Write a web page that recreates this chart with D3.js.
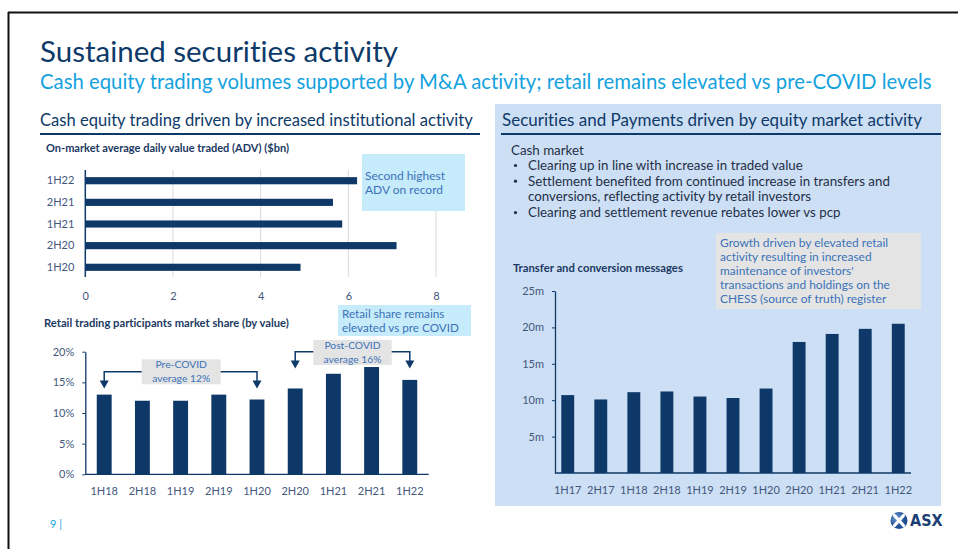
<!DOCTYPE html>
<html>
<head>
<meta charset="utf-8">
<script src="https://cdn.jsdelivr.net/npm/d3@7"></script>
<style>
  body { margin: 0; background: #fff; }
  svg { display: block; font-family: Lato, "Noto Sans", sans-serif; font-variant-ligatures: none; }
</style>
</head>
<body>
<div id="slide"></div>
<script>
// ADV bar chart (horizontal)
var advCats = ["1H22", "2H21", "1H21", "2H20", "1H20"];
var advValues = [6.2, 5.65, 5.86, 7.1, 4.91];
var advTicks = [0, 2, 4, 6, 8];

// retail market share (%)
var retailCats = ["1H18", "2H18", "1H19", "2H19", "1H20", "2H20", "1H21", "2H21", "1H22"];
var retailValues = [13.0, 12.0, 12.0, 13.0, 12.2, 14.0, 16.4, 17.5, 15.4];
var retailTicks = [0, 5, 10, 15, 20];

// transfer and conversion messages (m)
var msgCats = ["1H17", "2H17", "1H18", "2H18", "1H19", "2H19", "1H20", "2H20", "1H21", "2H21", "1H22"];
var msgValues = [10.7, 10.1, 11.1, 11.2, 10.5, 10.3, 11.6, 18.0, 19.1, 19.8, 20.5];
var msgTicks = [5, 10, 15, 20, 25];

var bullets = [
  ["Clearing up in line with increase in traded value"],
  ["Settlement benefited from continued increase in transfers and", "conversions, reflecting activity by retail investors"],
  ["Clearing and settlement revenue rebates lower vs pcp"]
];
var growthNote = ["Growth driven by elevated retail", "activity resulting in increased",
  "maintenance of investors'", "transactions and holdings on the", "CHESS (source of truth) register"];

var navy = "#0e3a69";
var barColor = "#0d3868";
var tickColor = "#43577e";
var noteColor = "#3b72b8";

var svg = d3.select("#slide").append("svg")
    .attr("width", 958)
    .attr("height", 549);

// scale font so text fills a given width
function fit(sel, w) {
  var len = sel.node().getComputedTextLength();
  var fs = parseFloat(sel.attr("font-size"));
  sel.attr("font-size", (fs * w / len).toFixed(2));
  return sel;
}

// frame
svg.append("line").attr("x1", 8).attr("x2", 958).attr("y1", 12.5).attr("y2", 12.5)
    .attr("stroke", "#111").attr("stroke-width", 2);
svg.append("line").attr("x1", 8.5).attr("x2", 8.5).attr("y1", 12).attr("y2", 549)
    .attr("stroke", "#111").attr("stroke-width", 2);

// titles
fit(svg.append("text").attr("x", 40).attr("y", 62).attr("font-size", 30)
    .attr("fill", navy).text("Sustained securities activity"), 358);
fit(svg.append("text").attr("x", 40).attr("y", 89).attr("font-size", 21)
    .attr("fill", "#14a2de")
    .text("Cash equity trading volumes supported by M&A activity; retail remains elevated vs pre-COVID levels"), 892);

// right panel
svg.append("rect").attr("x", 495).attr("y", 104).attr("width", 446).attr("height", 402)
    .attr("fill", "#cddff4");

fit(svg.append("text").attr("x", 40).attr("y", 126).attr("font-size", 16)
    .attr("fill", navy).text("Cash equity trading driven by increased institutional activity"), 433);
svg.append("line").attr("x1", 40).attr("x2", 480).attr("y1", 134).attr("y2", 134)
    .attr("stroke", navy).attr("stroke-width", 1.8);

fit(svg.append("text").attr("x", 502).attr("y", 126).attr("font-size", 16)
    .attr("fill", navy).text("Securities and Payments driven by equity market activity"), 420);
svg.append("line").attr("x1", 501).attr("x2", 941).attr("y1", 134).attr("y2", 134)
    .attr("stroke", navy).attr("stroke-width", 1.8);

// bullet text
var bodyColor = "#1f2f48";
var bt = svg.append("text").attr("x", 528).attr("y", 185).attr("font-size", 14)
    .attr("fill", bodyColor).text(bullets[1][0]);
fit(bt, 362);
var bodySize = parseFloat(bt.attr("font-size"));
bt.remove();

svg.append("text").attr("x", 511).attr("y", 155).attr("font-size", bodySize)
    .attr("fill", bodyColor).text("Cash market");
var lineY = 170;
bullets.forEach(function(b) {
  svg.append("circle").attr("cx", 515.5).attr("cy", lineY - 4.5).attr("r", 1.6)
      .attr("fill", bodyColor);
  b.forEach(function(t) {
    svg.append("text").attr("x", 528).attr("y", lineY).attr("font-size", bodySize)
        .attr("fill", bodyColor).text(t);
    lineY += 15.7;
  });
});

// ---------- ADV chart ----------
fit(svg.append("text").attr("x", 46).attr("y", 152).attr("font-size", 11)
    .attr("font-weight", "bold").attr("fill", "#1b3963")
    .text("On-market average daily value traded (ADV) ($bn)"), 243);

var advX = d3.scaleLinear().domain([0, 8]).range([85.3, 436]);
var advY = d3.scaleBand().domain(advCats).range([170, 278]).paddingInner(0.67).paddingOuter(0.33);

var advG = svg.append("g");
advG.selectAll(".grid").data(advTicks.filter(function(d) { return d > 0; }))
  .enter().append("line")
    .attr("x1", function(d) { return advX(d); })
    .attr("x2", function(d) { return advX(d); })
    .attr("y1", 170).attr("y2", 277)
    .attr("stroke", "#d9d9d9").attr("stroke-width", 1);

advG.selectAll("rect").data(advValues).enter().append("rect")
    .attr("x", advX(0))
    .attr("y", function(d, i) { return advY(advCats[i]); })
    .attr("width", function(d) { return advX(d) - advX(0); })
    .attr("height", advY.bandwidth())
    .attr("fill", barColor);

var advYAxis = advG.append("g").attr("transform", "translate(" + advX(0) + ",0)")
    .call(d3.axisLeft(advY).tickSize(0).tickPadding(11).tickSizeOuter(0));
advYAxis.select(".domain").attr("stroke", navy).attr("stroke-width", 1.5)
    .attr("d", "M0,170V277");

var advXAxis = advG.append("g").attr("transform", "translate(0,286)")
    .call(d3.axisBottom(advX).tickValues(advTicks).tickSize(0).tickPadding(6));
advXAxis.select(".domain").remove();

// cyan callout
svg.append("rect").attr("x", 362).attr("y", 154).attr("width", 103).attr("height", 57)
    .attr("fill", "#c6ebfb");
var noteA = svg.append("text").attr("x", 365).attr("y", 180).attr("font-size", 12.5)
    .attr("fill", noteColor).text("Second highest");
fit(noteA, 80);
svg.append("text").attr("x", 365).attr("y", 194).attr("font-size", noteA.attr("font-size"))
    .attr("fill", noteColor).text("ADV on record");

// ---------- retail chart ----------
fit(svg.append("text").attr("x", 44).attr("y", 327).attr("font-size", 11)
    .attr("font-weight", "bold").attr("fill", "#1b3963")
    .text("Retail trading participants market share (by value)"), 245);

svg.append("rect").attr("x", 338).attr("y", 305).attr("width", 133).attr("height", 31)
    .attr("fill", "#c6ebfb");
var noteB = svg.append("text").attr("x", 342).attr("y", 319).attr("font-size", 12.5)
    .attr("fill", noteColor).text("elevated vs pre COVID");
fit(noteB, 117);
noteB.attr("y", 332);
svg.append("text").attr("x", 342).attr("y", 318).attr("font-size", noteB.attr("font-size"))
    .attr("fill", noteColor).text("Retail share remains");

var rX = d3.scaleBand().domain(retailCats).range([85.3, 428.7]).paddingInner(0.61).paddingOuter(0.3);
var rY = d3.scaleLinear().domain([0, 20]).range([474.3, 351.7]);

var rG = svg.append("g");
rG.selectAll("rect").data(retailValues).enter().append("rect")
    .attr("x", function(d, i) { return rX(retailCats[i]); })
    .attr("y", function(d) { return rY(d); })
    .attr("width", rX.bandwidth())
    .attr("height", function(d) { return rY(0) - rY(d); })
    .attr("fill", barColor);

var rYAxis = rG.append("g").attr("transform", "translate(85.3,0)")
    .call(d3.axisLeft(rY).tickValues(retailTicks).tickSize(3).tickSizeOuter(0).tickPadding(8)
      .tickFormat(function(d) { return d + "%"; }));
rYAxis.selectAll(".tick line").attr("stroke", navy);
rYAxis.select(".domain").attr("stroke", navy).attr("stroke-width", 1.3);

var rXAxis = rG.append("g").attr("transform", "translate(0,474.3)")
    .call(d3.axisBottom(rX).tickSize(0).tickPadding(13));
rXAxis.select(".domain").attr("stroke", navy).attr("stroke-width", 1.3)
    .attr("d", "M85.3,0H428.7");

// bracket arrows
function bracket(c1, c2, yLine, yTip, box, lines) {
  var x1 = rX(c1) + rX.bandwidth() / 2;
  var x2 = rX(c2) + rX.bandwidth() / 2;
  rG.append("path")
      .attr("d", "M" + x1 + "," + (yTip - 7) + "V" + yLine + "H" + x2 + "V" + (yTip - 7))
      .attr("fill", "none").attr("stroke", navy).attr("stroke-width", 1.5);
  [x1, x2].forEach(function(x) {
    rG.append("path")
        .attr("d", "M" + (x - 4.5) + "," + (yTip - 8) + "L" + (x + 4.5) + "," + (yTip - 8) + "L" + x + "," + yTip + "Z")
        .attr("fill", navy);
  });
  rG.append("rect").attr("x", box[0]).attr("y", box[1]).attr("width", box[2]).attr("height", box[3])
      .attr("fill", "#e4e4e4");
  var cx = box[0] + box[2] / 2;
  var t = rG.append("text").attr("x", cx).attr("y", box[1] + 12).attr("font-size", 12)
      .attr("text-anchor", "middle").attr("fill", noteColor).text(lines[1]);
  fit(t, 58);
  t.attr("y", box[1] + 22.5);
  rG.append("text").attr("x", cx).attr("y", box[1] + 9).attr("font-size", t.attr("font-size"))
      .attr("text-anchor", "middle").attr("fill", noteColor).text(lines[0]);
}
bracket("1H18", "1H20", 371.7, 388.5, [141.7, 359.3, 79, 25], ["Pre-COVID", "average 12%"]);
bracket("2H20", "1H22", 351.7, 368.5, [313.3, 340, 78.4, 25], ["Post-COVID", "average 16%"]);

// ---------- messages chart ----------
fit(svg.append("text").attr("x", 513).attr("y", 272).attr("font-size", 11)
    .attr("font-weight", "bold").attr("fill", "#1b3963")
    .text("Transfer and conversion messages"), 170);

var mX = d3.scaleBand().domain(msgCats).range([555, 911]).paddingInner(0.61).paddingOuter(0.19);
var mY = d3.scaleLinear().domain([0, 25]).range([473, 291]);

var mG = svg.append("g");
mG.selectAll("rect").data(msgValues).enter().append("rect")
    .attr("x", function(d, i) { return mX(msgCats[i]); })
    .attr("y", function(d) { return mY(d); })
    .attr("width", mX.bandwidth())
    .attr("height", function(d) { return mY(0) - mY(d); })
    .attr("fill", barColor);

var mYAxis = mG.append("g").attr("transform", "translate(555,0)")
    .call(d3.axisLeft(mY).tickValues(msgTicks).tickSize(3).tickSizeOuter(0).tickPadding(8)
      .tickFormat(function(d) { return d + "m"; }));
mYAxis.selectAll(".tick line").attr("stroke", navy);
mYAxis.select(".domain").attr("stroke", navy).attr("stroke-width", 1.3);

var mXAxis = mG.append("g").attr("transform", "translate(0,473)")
    .call(d3.axisBottom(mX).tickSize(0).tickPadding(13));
mXAxis.select(".domain").attr("stroke", navy).attr("stroke-width", 1.3)
    .attr("d", "M555,0H911");

// gray growth note
svg.append("rect").attr("x", 716).attr("y", 233).attr("width", 205).attr("height", 76)
    .attr("fill", "#e4e4e4");
var gt = svg.append("text").attr("x", 720).attr("y", 289).attr("font-size", 12)
    .attr("fill", noteColor).text(growthNote[3]);
fit(gt, 170);
var gs = gt.attr("font-size");
gt.remove();
growthNote.forEach(function(t, i) {
  svg.append("text").attr("x", 720).attr("y", 247 + i * 14).attr("font-size", gs)
      .attr("fill", noteColor).text(t);
});

// axis label styling
svg.selectAll(".tick text").attr("fill", tickColor).attr("font-size", 11)
    .attr("font-family", "Lato, 'Noto Sans', sans-serif");

// footer
svg.append("text").attr("x", 50).attr("y", 528).attr("font-size", 11)
    .attr("fill", "#14a2de").text("9 |");

// ASX logo
var defs = svg.append("defs");
var grad = defs.append("radialGradient").attr("id", "asxg").attr("cx", "35%").attr("cy", "35%");
grad.append("stop").attr("offset", "0%").attr("stop-color", "#6f9fd6");
grad.append("stop").attr("offset", "100%").attr("stop-color", "#1f4f93");
var logo = svg.append("g").attr("transform", "translate(899,520.5)");
logo.append("circle").attr("r", 8.5).attr("fill", "url(#asxg)");
logo.append("path").attr("d", "M-4.5,-5L4.5,5M4.5,-5L-4.5,5")
    .attr("stroke", "#fff").attr("stroke-width", 3.2).attr("stroke-linecap", "round");
svg.append("text").attr("x", 910).attr("y", 526).attr("font-size", 16)
    .attr("font-weight", "bold").attr("fill", "#1c3f73")
    .attr("font-family", "'Liberation Sans Narrow', 'DejaVu Sans Condensed', sans-serif")
    .text("ASX");
</script>
</body>
</html>
